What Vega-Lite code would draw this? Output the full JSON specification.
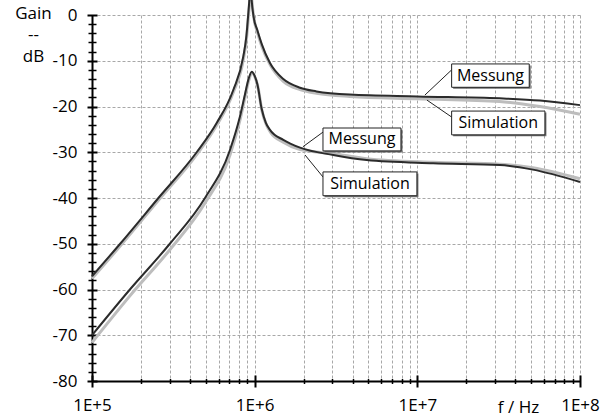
{
  "$schema": "https://vega.github.io/schema/vega-lite/v6.json",
  "width": 488,
  "height": 366,
  "autosize": {"type": "none"},
  "padding": {"left": 92, "top": 15, "right": 32, "bottom": 38},
  "config": {
    "view": {"stroke": null},
    "font": "Open Sans",
    "axis": {"labelColor": "#000", "titleColor": "#000", "labelFont": "Open Sans", "titleFont": "Open Sans"}
  },
  "datasets": {
    "curves": [
      {"s": "M1", "k": "Messung", "f": 100000, "g": -57.1},
      {"s": "M1", "k": "Messung", "f": 149000, "g": -50},
      {"s": "M1", "k": "Messung", "f": 256000, "g": -40},
      {"s": "M1", "k": "Messung", "f": 440000, "g": -30},
      {"s": "M1", "k": "Messung", "f": 584000, "g": -23.6},
      {"s": "M1", "k": "Messung", "f": 739000, "g": -16.4},
      {"s": "M1", "k": "Messung", "f": 851000, "g": -9.1},
      {"s": "M1", "k": "Messung", "f": 890000, "g": -4.5},
      {"s": "M1", "k": "Messung", "f": 910000, "g": -0.5},
      {"s": "M1", "k": "Messung", "f": 930000, "g": 4},
      {"s": "M1", "k": "Messung", "f": 942000, "g": 8},
      {"s": "M1", "k": "Messung", "f": 955000, "g": 4},
      {"s": "M1", "k": "Messung", "f": 984000, "g": -0.3},
      {"s": "M1", "k": "Messung", "f": 1040000, "g": -3.4},
      {"s": "M1", "k": "Messung", "f": 1104000, "g": -6.3},
      {"s": "M1", "k": "Messung", "f": 1242000, "g": -10.5},
      {"s": "M1", "k": "Messung", "f": 1500000, "g": -14.0},
      {"s": "M1", "k": "Messung", "f": 1900000, "g": -15.9},
      {"s": "M1", "k": "Messung", "f": 2400000, "g": -16.7},
      {"s": "M1", "k": "Messung", "f": 3850000, "g": -17.4},
      {"s": "M1", "k": "Messung", "f": 10000000, "g": -17.8},
      {"s": "M1", "k": "Messung", "f": 32000000, "g": -18.2},
      {"s": "M1", "k": "Messung", "f": 56700000, "g": -18.7},
      {"s": "M1", "k": "Messung", "f": 100000000, "g": -19.7},

      {"s": "S1", "k": "Simulation", "f": 100000, "g": -57.6},
      {"s": "S1", "k": "Simulation", "f": 149000, "g": -50.5},
      {"s": "S1", "k": "Simulation", "f": 256000, "g": -40.5},
      {"s": "S1", "k": "Simulation", "f": 440000, "g": -30.5},
      {"s": "S1", "k": "Simulation", "f": 584000, "g": -24.1},
      {"s": "S1", "k": "Simulation", "f": 739000, "g": -16.9},
      {"s": "S1", "k": "Simulation", "f": 851000, "g": -9.8},
      {"s": "S1", "k": "Simulation", "f": 893000, "g": -4.8},
      {"s": "S1", "k": "Simulation", "f": 913000, "g": -0.8},
      {"s": "S1", "k": "Simulation", "f": 933000, "g": 3.5},
      {"s": "S1", "k": "Simulation", "f": 945000, "g": 8},
      {"s": "S1", "k": "Simulation", "f": 960000, "g": 3.5},
      {"s": "S1", "k": "Simulation", "f": 990000, "g": -0.8},
      {"s": "S1", "k": "Simulation", "f": 1045000, "g": -4.0},
      {"s": "S1", "k": "Simulation", "f": 1110000, "g": -7.0},
      {"s": "S1", "k": "Simulation", "f": 1250000, "g": -11.0},
      {"s": "S1", "k": "Simulation", "f": 1500000, "g": -14.5},
      {"s": "S1", "k": "Simulation", "f": 1900000, "g": -16.3},
      {"s": "S1", "k": "Simulation", "f": 2400000, "g": -17.1},
      {"s": "S1", "k": "Simulation", "f": 3850000, "g": -17.8},
      {"s": "S1", "k": "Simulation", "f": 10000000, "g": -18.3},
      {"s": "S1", "k": "Simulation", "f": 32000000, "g": -18.9},
      {"s": "S1", "k": "Simulation", "f": 56700000, "g": -20.0},
      {"s": "S1", "k": "Simulation", "f": 100000000, "g": -21.7},

      {"s": "M2", "k": "Messung", "f": 100000, "g": -70.0},
      {"s": "M2", "k": "Messung", "f": 171000, "g": -60},
      {"s": "M2", "k": "Messung", "f": 301000, "g": -50},
      {"s": "M2", "k": "Messung", "f": 495000, "g": -40},
      {"s": "M2", "k": "Messung", "f": 705000, "g": -29.5},
      {"s": "M2", "k": "Messung", "f": 812000, "g": -22.2},
      {"s": "M2", "k": "Messung", "f": 870000, "g": -17.5},
      {"s": "M2", "k": "Messung", "f": 920000, "g": -13.8},
      {"s": "M2", "k": "Messung", "f": 960000, "g": -12.4},
      {"s": "M2", "k": "Messung", "f": 1000000, "g": -13.3},
      {"s": "M2", "k": "Messung", "f": 1040000, "g": -15.2},
      {"s": "M2", "k": "Messung", "f": 1104000, "g": -20.5},
      {"s": "M2", "k": "Messung", "f": 1170000, "g": -23.5},
      {"s": "M2", "k": "Messung", "f": 1242000, "g": -25.1},
      {"s": "M2", "k": "Messung", "f": 1500000, "g": -27.3},
      {"s": "M2", "k": "Messung", "f": 1900000, "g": -29.0},
      {"s": "M2", "k": "Messung", "f": 3040000, "g": -30.6},
      {"s": "M2", "k": "Messung", "f": 4880000, "g": -31.7},
      {"s": "M2", "k": "Messung", "f": 12500000, "g": -32.4},
      {"s": "M2", "k": "Messung", "f": 32200000, "g": -32.8},
      {"s": "M2", "k": "Messung", "f": 51300000, "g": -33.8},
      {"s": "M2", "k": "Messung", "f": 100000000, "g": -36.5},

      {"s": "S2", "k": "Simulation", "f": 100000, "g": -71.6},
      {"s": "S2", "k": "Simulation", "f": 171000, "g": -61.4},
      {"s": "S2", "k": "Simulation", "f": 301000, "g": -51.3},
      {"s": "S2", "k": "Simulation", "f": 495000, "g": -41.1},
      {"s": "S2", "k": "Simulation", "f": 705000, "g": -30.6},
      {"s": "S2", "k": "Simulation", "f": 812000, "g": -23.0},
      {"s": "S2", "k": "Simulation", "f": 870000, "g": -18.2},
      {"s": "S2", "k": "Simulation", "f": 920000, "g": -14.3},
      {"s": "S2", "k": "Simulation", "f": 965000, "g": -12.7},
      {"s": "S2", "k": "Simulation", "f": 1005000, "g": -13.6},
      {"s": "S2", "k": "Simulation", "f": 1045000, "g": -15.6},
      {"s": "S2", "k": "Simulation", "f": 1110000, "g": -21.0},
      {"s": "S2", "k": "Simulation", "f": 1180000, "g": -24.0},
      {"s": "S2", "k": "Simulation", "f": 1250000, "g": -25.6},
      {"s": "S2", "k": "Simulation", "f": 1500000, "g": -27.8},
      {"s": "S2", "k": "Simulation", "f": 1900000, "g": -29.4},
      {"s": "S2", "k": "Simulation", "f": 3040000, "g": -30.3},
      {"s": "S2", "k": "Simulation", "f": 4880000, "g": -31.4},
      {"s": "S2", "k": "Simulation", "f": 12500000, "g": -32.2},
      {"s": "S2", "k": "Simulation", "f": 32200000, "g": -32.6},
      {"s": "S2", "k": "Simulation", "f": 51300000, "g": -33.4},
      {"s": "S2", "k": "Simulation", "f": 100000000, "g": -35.8}
    ],
    "boxes": [
      {"label": "Messung", "x1": 16250000, "x2": 48740000, "y1": -10.7, "y2": -15.8, "cx": 28140000, "cy": -13.25},
      {"label": "Simulation", "x1": 16250000, "x2": 60850000, "y1": -21.0, "y2": -26.2, "cx": 31450000, "cy": -23.6},
      {"label": "Messung", "x1": 2630000, "x2": 7930000, "y1": -24.7, "y2": -29.7, "cx": 4567000, "cy": -27.2},
      {"label": "Simulation", "x1": 2630000, "x2": 9940000, "y1": -34.3, "y2": -39.5, "cx": 5113000, "cy": -36.9}
    ],
    "leaders": [
      {"fx": 11130000, "fy": -17.5, "tx": 16250000, "ty": -12.0},
      {"fx": 11460000, "fy": -18.6, "tx": 16250000, "ty": -22.3},
      {"fx": 1980000, "fy": -28.8, "tx": 2630000, "ty": -25.6},
      {"fx": 2040000, "fy": -30.6, "tx": 2630000, "ty": -35.4}
    ]
  },
  "layer": [
    {
      "data": {"name": "curves"},
      "transform": [{"filter": "datum.k == 'Simulation'"}],
      "mark": {"type": "line", "interpolate": "monotone", "stroke": "#bdbdbd", "strokeWidth": 3},
      "encoding": {
        "detail": {"field": "s"},
        "x": {
          "field": "f", "type": "quantitative",
          "scale": {"type": "log", "domain": [100000, 100000000], "nice": false},
          "axis": {
            "orient": "bottom",
            "values": [100000, 200000, 300000, 400000, 500000, 600000, 700000, 800000, 900000, 1000000, 2000000, 3000000, 4000000, 5000000, 6000000, 7000000, 8000000, 9000000, 10000000, 20000000, 30000000, 40000000, 50000000, 60000000, 70000000, 80000000, 90000000, 100000000],
            "labelExpr": "abs(log(datum.value)/LN10 - round(log(datum.value)/LN10)) < 0.01 ? '1E+' + round(log(datum.value)/LN10) : ''",
            "labelOverlap": false, "labelFlush": false,
            "labelFontSize": 17, "labelPadding": 16,
            "ticks": false,
            "domain": true, "domainColor": "#000", "domainWidth": 2,
            "grid": true, "gridColor": "#a8a8a8", "gridDash": [3, 2], "gridWidth": 1,
            "title": "f / Hz", "titleFontSize": 17, "titleFontWeight": "normal",
            "titleX": 426, "titleY": 26, "titleBaseline": "middle", "titleAlign": "center"
          }
        },
        "y": {
          "field": "g", "type": "quantitative",
          "scale": {"domain": [-80, 0], "nice": false, "zero": false},
          "axis": {
            "orient": "left",
            "values": [-80, -70, -60, -50, -40, -30, -20, -10, 0],
            "labelExpr": "'' + datum.value",
            "labelFontSize": 17, "labelPadding": 15,
            "ticks": false,
            "domain": true, "domainColor": "#000", "domainWidth": 2,
            "grid": true, "gridColor": "#a8a8a8", "gridDash": [3, 2], "gridWidth": 1,
            "title": ["Gain", "--", "dB"], "titleAngle": 0, "titleFontSize": 17, "titleFontWeight": "normal",
            "titleX": -59, "titleY": -10, "titleBaseline": "top", "titleAlign": "center", "titleLineHeight": 21.5
          }
        }
      }
    },
    {
      "data": {"name": "curves"},
      "transform": [{"filter": "datum.k == 'Messung'"}],
      "mark": {"type": "line", "interpolate": "monotone", "stroke": "#2b2b2b", "strokeWidth": 2},
      "encoding": {
        "detail": {"field": "s"},
        "x": {
          "field": "f", "type": "quantitative",
          "axis": {
            "orient": "bottom", "values": [100000, 1000000, 10000000, 100000000],
            "labels": false, "domain": false, "grid": false, "title": null,
            "ticks": true, "tickColor": "#000", "tickWidth": 2, "tickSize": 12, "offset": -6
          }
        },
        "y": {
          "field": "g", "type": "quantitative",
          "axis": {
            "orient": "left", "values": [-80, -70, -60, -50, -40, -30, -20, -10, 0],
            "labels": false, "domain": false, "grid": false, "title": null,
            "ticks": true, "tickColor": "#000", "tickWidth": 2, "tickSize": 10, "offset": -5
          }
        }
      }
    },
    {
      "data": {"name": "leaders"},
      "mark": {"type": "rule", "stroke": "#222", "strokeWidth": 1},
      "encoding": {
        "x": {
          "field": "fx", "type": "quantitative",
          "axis": {
            "orient": "bottom",
            "values": [200000, 300000, 400000, 500000, 600000, 700000, 800000, 900000, 2000000, 3000000, 4000000, 5000000, 6000000, 7000000, 8000000, 9000000, 20000000, 30000000, 40000000, 50000000, 60000000, 70000000, 80000000, 90000000],
            "labels": false, "domain": false, "grid": false, "title": null,
            "ticks": true, "tickColor": "#000", "tickWidth": 1.5, "tickSize": 5, "offset": -2.5
          }
        },
        "x2": {"field": "tx"},
        "y": {
          "field": "fy", "type": "quantitative",
          "axis": {
            "orient": "left",
            "values": [-78, -76, -74, -72, -68, -66, -64, -62, -58, -56, -54, -52, -48, -46, -44, -42, -38, -36, -34, -32, -28, -26, -24, -22, -18, -16, -14, -12, -8, -6, -4, -2],
            "labels": false, "domain": false, "grid": false, "title": null,
            "ticks": true, "tickColor": "#000", "tickWidth": 1.5, "tickSize": 8, "offset": -4
          }
        },
        "y2": {"field": "ty"}
      }
    },
    {
      "data": {"name": "boxes"},
      "mark": {"type": "rect", "fill": "#6e6e6e", "xOffset": 1.5, "x2Offset": 1.5, "yOffset": 1.5, "y2Offset": 1.5},
      "encoding": {
        "x": {"field": "x1", "type": "quantitative", "axis": null},
        "x2": {"field": "x2"},
        "y": {"field": "y1", "type": "quantitative", "axis": null},
        "y2": {"field": "y2"}
      }
    },
    {
      "data": {"name": "boxes"},
      "mark": {"type": "rect", "fill": "#ffffff", "stroke": "#222", "strokeWidth": 1},
      "encoding": {
        "x": {"field": "x1", "type": "quantitative", "axis": null},
        "x2": {"field": "x2"},
        "y": {"field": "y1", "type": "quantitative", "axis": null},
        "y2": {"field": "y2"}
      }
    },
    {
      "data": {"name": "boxes"},
      "mark": {"type": "text", "fontSize": 16, "font": "Open Sans", "color": "#000", "align": "center", "baseline": "middle"},
      "encoding": {
        "x": {"field": "cx", "type": "quantitative", "axis": null},
        "y": {"field": "cy", "type": "quantitative", "axis": null},
        "text": {"field": "label"}
      }
    }
  ],
  "resolve": {"axis": {"x": "independent", "y": "independent"}}
}
